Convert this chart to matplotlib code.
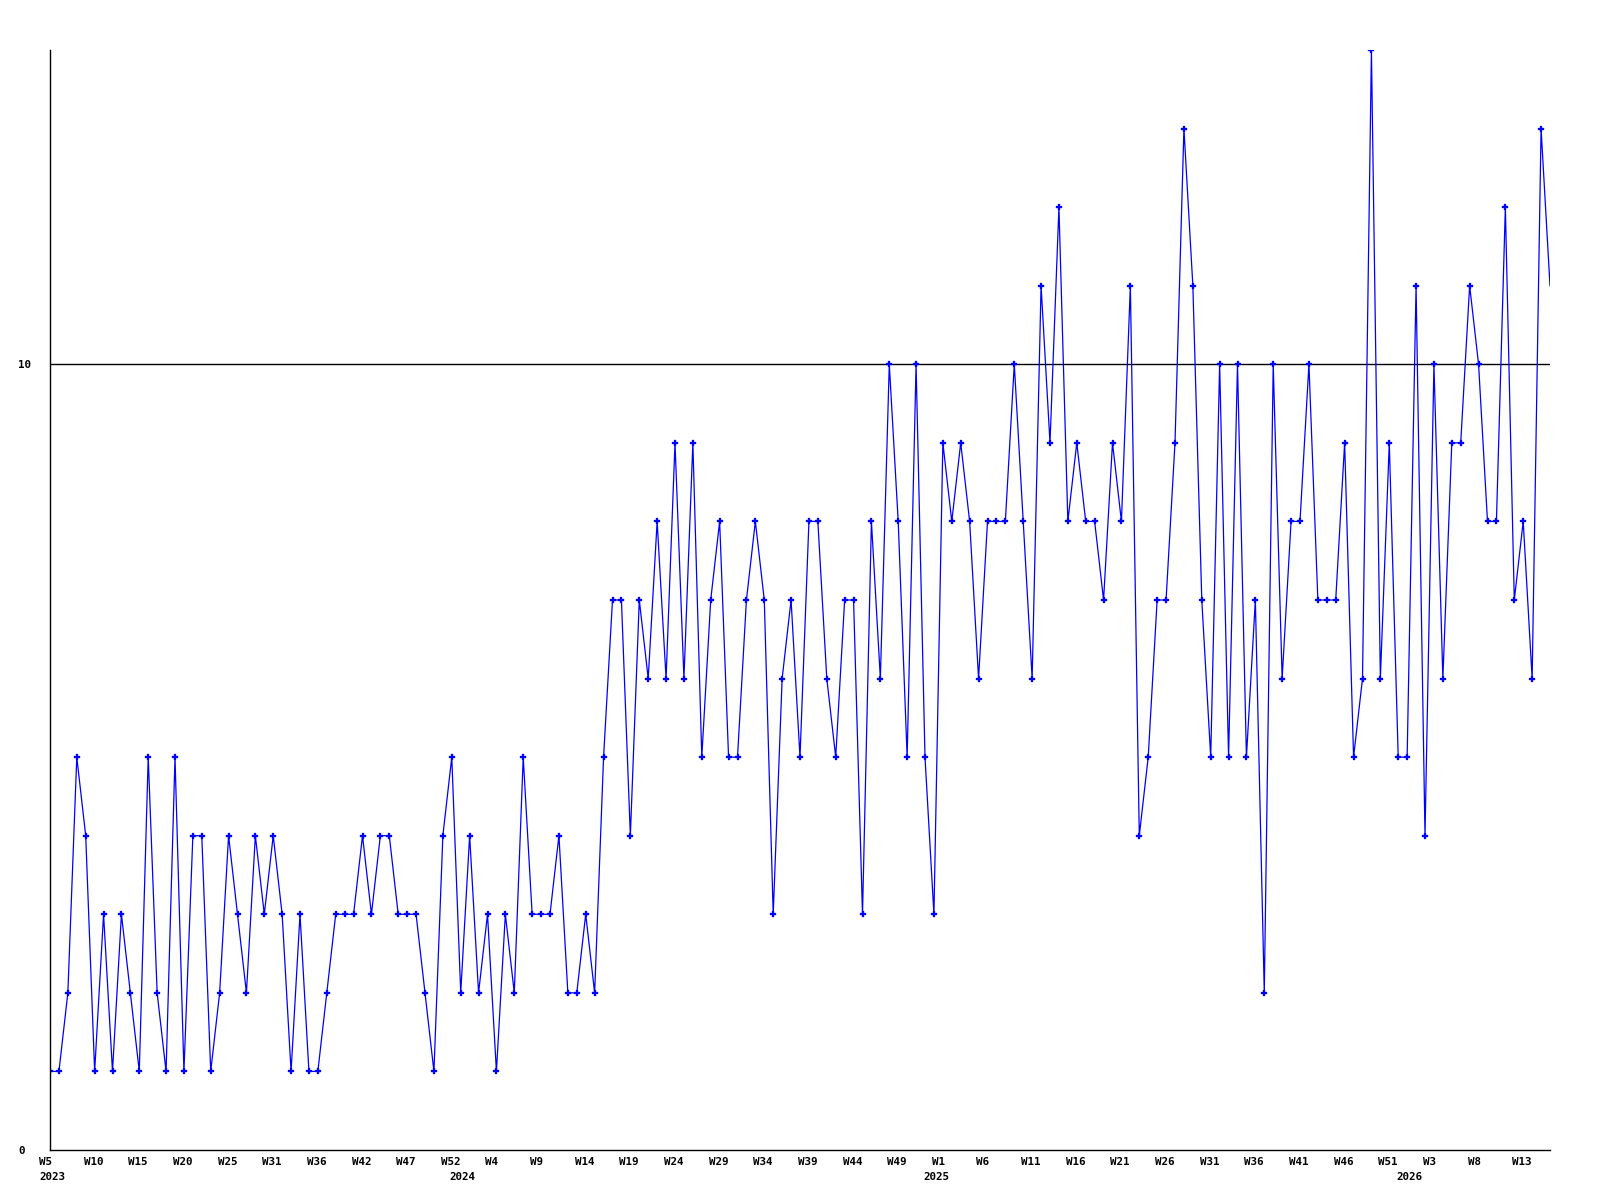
import matplotlib
matplotlib.use("Agg")
import matplotlib.pyplot as plt
from matplotlib.transforms import ScaledTranslation

# ---- data (weekly counts) ----
values = [
    1, 1, 2, 5, 4, 1, 3, 1, 3, 2, 1, 5, 2, 1, 5, 1, 4, 4, 1, 2, 4, 3, 2, 4, 3, 4, 3, 1, 3, 1,
    1, 2, 3, 3, 3, 4, 3, 4, 4, 3, 3, 3, 2, 1, 4, 5, 2, 4, 2, 3, 1, 3, 2, 5, 3, 3, 3, 4, 2, 2,
    3, 2, 5, 7, 7, 4, 7, 6, 8, 6, 9, 6, 9, 5, 7, 8, 5, 5, 7, 8, 7, 3, 6, 7, 5, 8, 8, 6, 5, 7,
    7, 3, 8, 6, 10, 8, 5, 10, 5, 3, 9, 8, 9, 8, 6, 8, 8, 8, 10, 8, 6, 11, 9, 12, 8, 9, 8, 8, 7, 9,
    8, 11, 4, 5, 7, 7, 9, 13, 11, 7, 5, 10, 5, 10, 5, 7, 2, 10, 6, 8, 8, 10, 7, 7, 7, 9, 5, 6, 14, 6,
    9, 5, 5, 11, 4, 10, 6, 9, 9, 11, 10, 8, 8, 12, 7, 8, 6, 13, 11,
]

week_labels = ["W5", "W10", "W15", "W20", "W25", "W31", "W36", "W42", "W47", "W52",
               "W4", "W9", "W14", "W19", "W24", "W29", "W34", "W39", "W44", "W49",
               "W1", "W6", "W11", "W16", "W21", "W26", "W31", "W36", "W41", "W46",
               "W51", "W3", "W8", "W13"]
week_label_step = 5

year_labels = ["2023", "2024", "2025", "2026"]
year_label_index = [0, 46, 99, 152]

y_ticks = [0, 10]
reference_level = 10
y_max = 14

# ---- figure ----
fig = plt.figure(figsize=(16, 12), dpi=100)
ax = fig.add_axes([50 / 1600, 50 / 1200, 1500 / 1600, 1100 / 1200])

x = list(range(len(values)))
ax.axhline(reference_level, color="black", lw=1.0, zorder=1)
ax.plot(x, values, color="#0000FF", lw=0.9, marker="P", ms=4.0,
        markeredgewidth=0.2, markeredgecolor="#0000FF",
        markevery=list(range(len(values) - 1)), zorder=2)

ax.set_xlim(0, len(values) - 1)
ax.set_ylim(0, y_max)

for s in ["top", "right"]:
    ax.spines[s].set_visible(False)
for s in ["left", "bottom"]:
    ax.spines[s].set_color("black")
    ax.spines[s].set_linewidth(1.0)

font = dict(family="DejaVu Sans Mono", weight="bold", size=7.8)

# x ticks: week labels
xt = list(range(0, len(values), week_label_step))[:len(week_labels)]
ax.set_xticks(xt)
ax.set_xticklabels(week_labels, fontdict=font, ha="left")
ax.tick_params(axis="x", length=0, pad=5)
off = ScaledTranslation(-11 / 100, 0, fig.dpi_scale_trans)
for lab in ax.get_xticklabels():
    lab.set_transform(lab.get_transform() + off)

# year labels
for lbl, xi in zip(year_labels, year_label_index):
    ax.annotate(lbl, xy=(xi, 0), xycoords=("data", "axes fraction"),
                xytext=(-11 * 0.72, -22 * 0.72), textcoords="offset points",
                ha="left", va="top", annotation_clip=False, **font)

# y ticks
ax.set_yticks(y_ticks)
ax.set_yticklabels([str(v) for v in y_ticks], fontdict=font, ha="left")
ax.tick_params(axis="y", length=0, pad=32 * 0.72)

fig.savefig("out.png", dpi=100, facecolor="white")
